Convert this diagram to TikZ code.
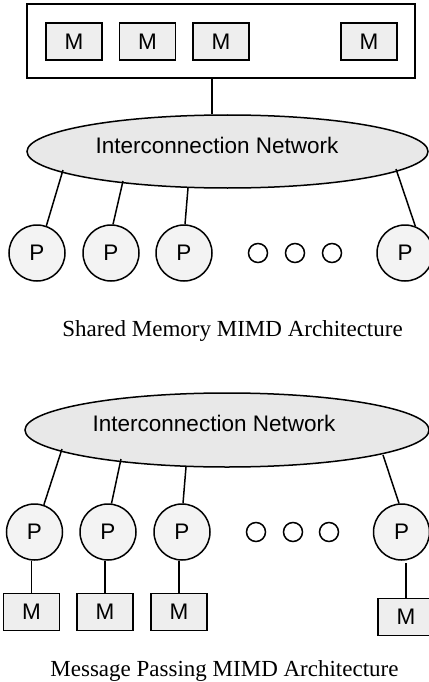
\documentclass[tikz,border=0pt]{standalone}
\usepackage{fontspec}
\setmainfont{Liberation Serif}
\setsansfont{Liberation Sans}
\usetikzlibrary{shapes.geometric,calc}
\definecolor{netfill}{HTML}{E8E8E8}
\definecolor{pfill}{HTML}{F3F3F3}
\definecolor{mfill}{HTML}{EEEEEE}
\tikzset{
  every path/.style={line width=1.5pt},
  lbl/.style={font=\sffamily\fontsize{22.5}{26}\selectfont, inner sep=0pt},
  membox/.style={draw, fill=mfill, minimum width=56pt, minimum height=37pt, inner sep=0pt, lbl},
  proc/.style={draw, circle, fill=pfill, minimum size=56pt, inner sep=0pt, lbl},
  dot/.style={draw, circle, minimum size=19pt, inner sep=0pt},
  net/.style={draw, ellipse, fill=netfill, inner sep=0pt},
  caption/.style={font=\rmfamily\fontsize{23}{27}\selectfont, inner sep=0pt, anchor=base},
  wire/.style={draw, line width=1.5pt}
}
\begin{document}
\begin{tikzpicture}[x=1pt,y=-1pt]
\useasboundingbox (0,0) rectangle (428,682);
% ---------- Shared memory ----------
\node[draw, line width=1.5pt, minimum width=388pt, minimum height=74pt, inner sep=0pt] (mem) at (221,41) {};
\node[membox] (m1) at (74,41.5) {M};
\node[membox] (m2) at (147.5,41.5) {M};
\node[membox] (m3) at (221,41.5) {M};
\node[membox] (m4) at (369,41.5) {M};
\node[net, minimum width=401pt, minimum height=73pt] (net1) at (227.5,151.5) {};
\node[lbl] (net1t) at (217,145) {Interconnection Network};
\draw[wire] ([xshift=-9pt]mem.south) -- ([xshift=-9pt]mem.south |- net1.north);
\node[proc] (p1) at (37,253) {P};
\node[proc] (p2) at (111,253) {P};
\node[proc] (p3) at (184,253) {P};
\node[proc] (p4) at (405,253) {P};
\node[dot] (d1) at (258,253) {};
\node[dot] (d2) at (295,253) {};
\node[dot] (d3) at (332,253) {};
\draw[wire] ($(net1.center)+(-164.5,18.5)$) -- (p1.71.6);
\draw[wire] ($(net1.center)+(-104.5,29.5)$) -- (p2.86);
\draw[wire] ($(net1.center)+(-39.5,36.5)$) -- (p3.88);
\draw[wire] ($(net1.center)+(168.5,17.5)$) -- (p4.69.7);
\node[caption] (cap1) at (232.5,336) {Shared Memory MIMD Architecture};
% ---------- Message passing ----------
\node[net, minimum width=404pt, minimum height=74pt] (net2) at (227,430) {};
\node[lbl] (net2t) at (214,423) {Interconnection Network};
\node[proc] (q1) at (34.5,532) {P};
\node[proc] (q2) at (108,532) {P};
\node[proc] (q3) at (182,532) {P};
\node[proc] (q4) at (401.5,532) {P};
\node[dot] (e1) at (256,532) {};
\node[dot] (e2) at (293,532) {};
\node[dot] (e3) at (329,532) {};
\draw[wire] ($(net2.center)+(-165,19)$) -- (q1.71.6);
\draw[wire] ($(net2.center)+(-106,29)$) -- (q2.83.7);
\draw[wire] ($(net2.center)+(-41,37)$) -- (q3.88);
\draw[wire] ($(net2.center)+(156,25)$) -- (q4.95);
\node[membox] (n1) at (31.5,612) {M};
\node[membox] (n2) at (105,612) {M};
\node[membox] (n3) at (179,612) {M};
\node[membox] (n4) at (406,617) {M};
\draw[wire] (n1.north) -- (n1.north |- q1.south);
\draw[wire] (n2.north) -- (n2.north |- q2.south);
\draw[wire] (n3.north) -- (n3.north |- q3.south);
\draw[wire] (n4.north) -- ([yshift=-2pt]n4.north |- q4.south);
\node[caption] (cap2) at (224.5,676) {Message Passing MIMD Architecture};
\end{tikzpicture}
\end{document}
